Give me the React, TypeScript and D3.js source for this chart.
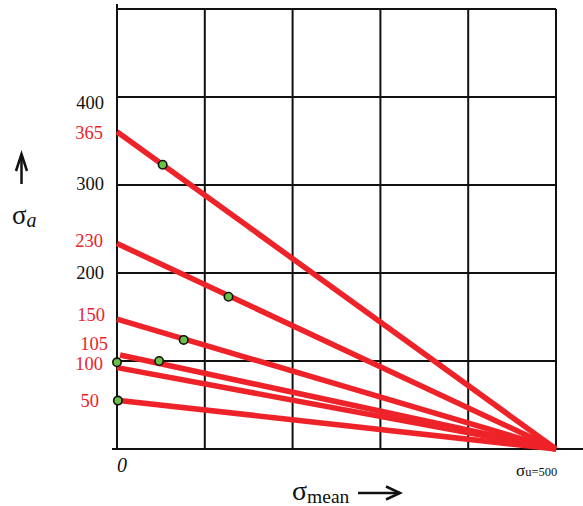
import React from "react";
import * as d3 from "d3";

// ---- data ----
const gridValues = [0, 100, 200, 300, 400, 500];
const yTickLabels = [200, 300, 400];
const lineLabels = ["365", "230", "150", "105", "100", "50"];
const lineIntercepts = [360.5, 233.5, 147.5, 107.5, 92.5, 55.5];
const lineStartX = [0, 0, 0, 3.5, 0, 0];
const ultimateStrength = 500;
const pointX = [52, 127, 76, 48, 0, 1];
const pointY = [323, 173, 124, 100, 98.5, 55];

// ---- style (pixel nudges for labels, not data) ----
const tickLabelShift = [0, -1, 6];
const lineLabelShift = [1, -3, -4, -10, -4, 1];
const lineLabelRight = [103, 103, 105, 108, 103, 99];

const W = 583;
const H = 506;
const RED = "#ee2229";
const GREEN = "#6abf45";
const FONT = "'Liberation Serif', 'Times New Roman', serif";

export default function App() {
  const x = d3.scaleLinear().domain([0, 500]).range([117, 556]);
  const y = d3.scaleLinear().domain([0, 500]).range([449, 9]);
  const line = d3
    .line<[number, number]>()
    .x((d) => x(d[0]))
    .y((d) => y(d[1]));

  return (
    <svg
      width={W}
      height={H}
      style={{ position: "absolute", left: 0, top: 0, background: "#fff" }}
      fontFamily={FONT}
    >
      {/* grid */}
      <g stroke="#111" strokeWidth={2} fill="none">
        {gridValues.slice(1).map((v) => (
          <line key={"h" + v} x1={x(0)} x2={x(500)} y1={y(v)} y2={y(v)} />
        ))}
        {gridValues.slice(1).map((v) => (
          <line key={"v" + v} x1={x(v)} x2={x(v)} y1={y(500)} y2={y(0)} />
        ))}
        <line x1={x(0)} x2={x(0)} y1={y(500) - 5} y2={y(0)} />
        <line x1={x(0) - 5} x2={W} y1={y(0)} y2={y(0)} />
      </g>

      {/* black y tick labels */}
      {yTickLabels.map((v, i) => (
        <text
          key={"t" + v}
          x={104}
          y={y(v) + tickLabelShift[i]}
          textAnchor="end"
          dominantBaseline="central"
          fontSize={18.5}
          fill="#111"
        >
          {v}
        </text>
      ))}

      {/* red lines */}
      <g stroke={RED} strokeWidth={5.5} fill="none" strokeLinecap="butt">
        {lineIntercepts.map((b, i) => {
          const x0 = lineStartX[i];
          const y0 = b * (1 - x0 / ultimateStrength);
          return (
            <path
              key={"l" + i}
              d={line([
                [x0, y0],
                [ultimateStrength, 0],
              ]) as string}
            />
          );
        })}
      </g>

      {/* red labels */}
      {lineLabels.map((s, i) => (
        <text
          key={"rl" + i}
          x={lineLabelRight[i]}
          y={y(lineIntercepts[i]) + lineLabelShift[i]}
          textAnchor="end"
          dominantBaseline="central"
          fontSize={18.5}
          fill={RED}
        >
          {s}
        </text>
      ))}

      {/* points */}
      {pointX.map((px, i) => (
        <circle
          key={"p" + i}
          cx={x(px)}
          cy={y(pointY[i])}
          r={4.2}
          fill={GREEN}
          stroke="#111"
          strokeWidth={1.6}
        />
      ))}

      {/* origin label */}
      <text x={117} y={472} fontSize={20} fontStyle="italic" fill="#111">
        0
      </text>

      {/* sigma_u label */}
      <text x={516} y={476} fill="#111">
        <tspan fontSize={17}>σ</tspan>
        <tspan fontSize={12.5}>u=500</tspan>
      </text>

      {/* x axis title */}
      <text x={292} y={500} fill="#111">
        <tspan fontSize={28}>σ</tspan>
        <tspan fontSize={19.5} dy={2.5}>
          mean
        </tspan>
      </text>
      <g stroke="#111" strokeWidth={2.5} fill="none">
        <line x1={358} x2={400} y1={493} y2={493} />
        <path d="M386,486.5 L400,493 L386,499.5" />
      </g>

      {/* y axis title */}
      <text x={12} y={223.5} fill="#111">
        <tspan fontSize={27}>σ</tspan>
        <tspan fontSize={20} fontStyle="italic" dy={3.5}>
          a
        </tspan>
      </text>
      <g stroke="#111" strokeWidth={2.5} fill="none">
        <line x1={21.5} x2={21.5} y1={154} y2={184} />
        <path d="M16,171 L21.5,154 L27,171" />
      </g>
    </svg>
  );
}
